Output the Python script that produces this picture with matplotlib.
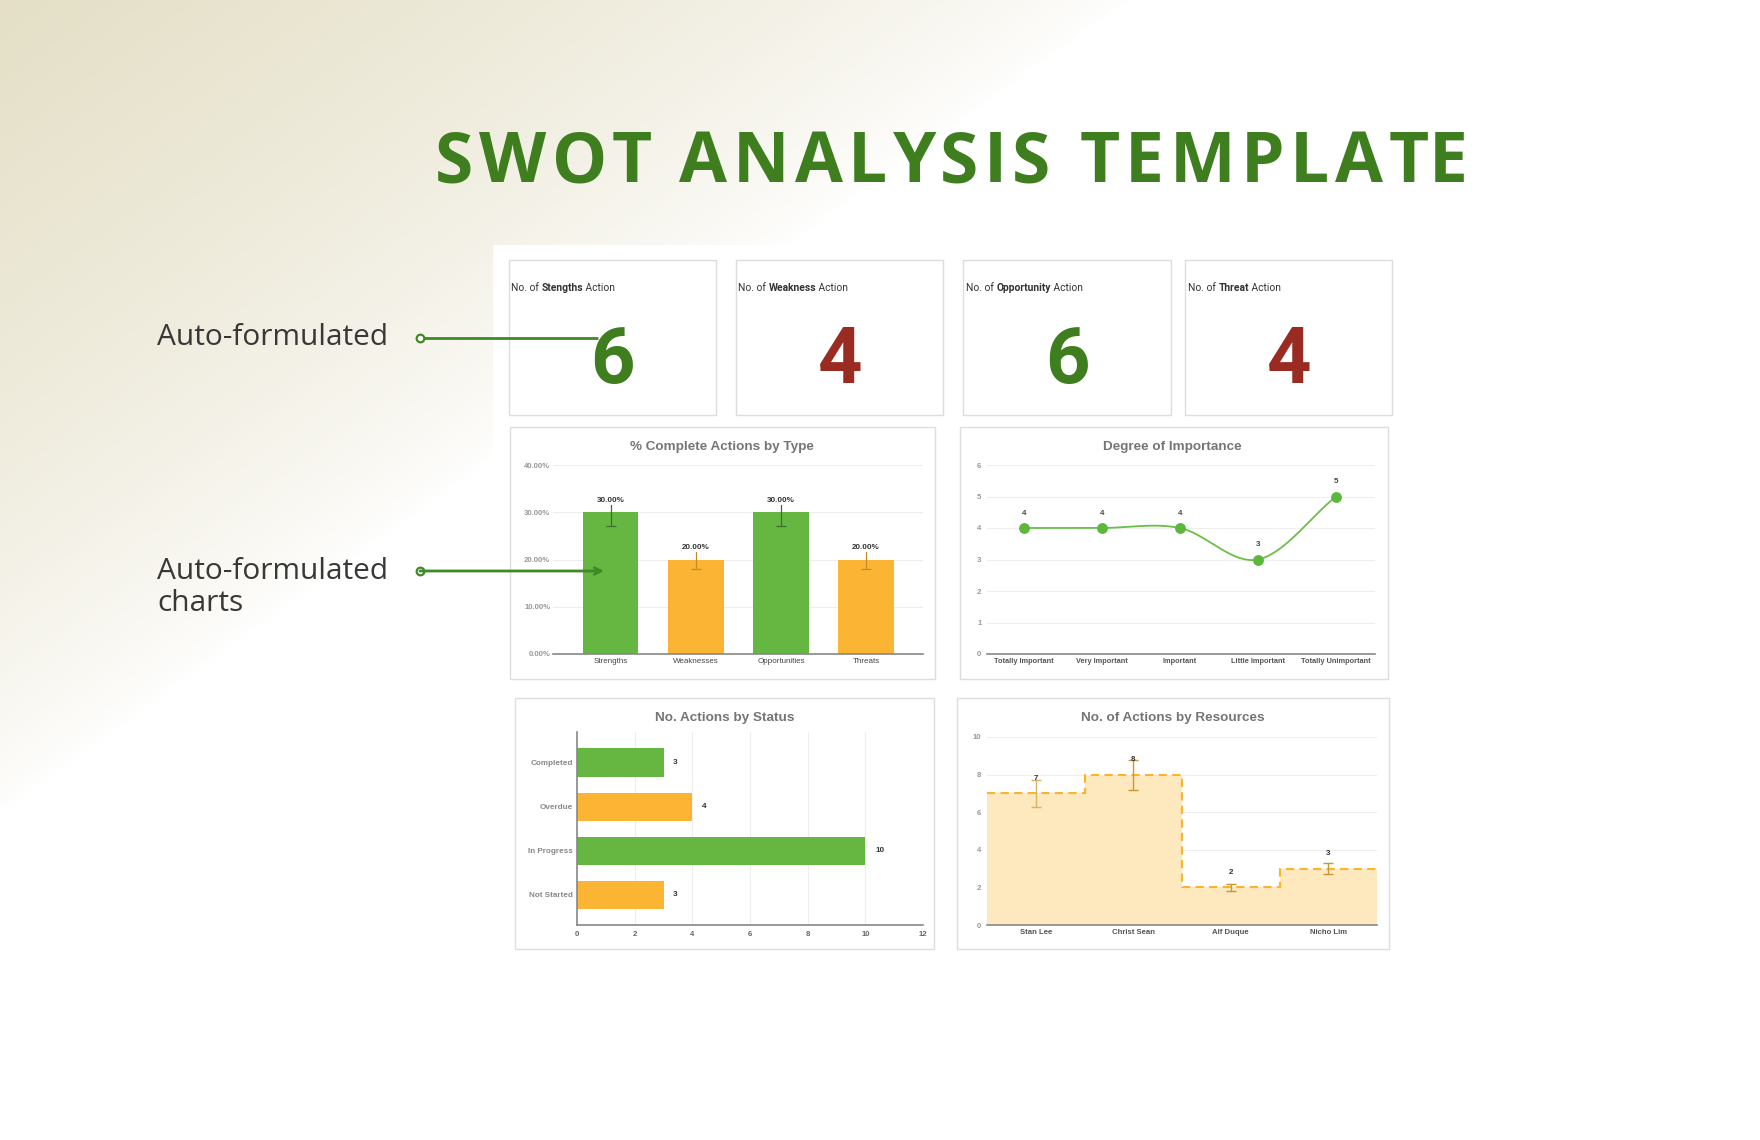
import numpy as np
import matplotlib
matplotlib.use('Agg')
import matplotlib.pyplot as plt
from matplotlib.patches import Rectangle

# ---- data ----
kpi_names = ['Stengths', 'Weakness', 'Opportunity', 'Threat']
kpi_values = [6, 4, 6, 4]

type_labels = ['Strengths', 'Weaknesses', 'Opportunities', 'Threats']
type_pct = [30, 20, 30, 20]

importance_labels = ['Totally Important', 'Very Important', 'Important',
                     'Little Important', 'Totally Unimportant']
importance_counts = [4, 4, 4, 3, 5]

status_labels = ['Completed', 'Overdue', 'In Progress', 'Not Started']
status_counts = [3, 4, 10, 3]

resource_labels = ['Stan Lee', 'Christ Sean', 'Alf Duque', 'Nicho Lim']
resource_counts = [7, 8, 2, 3]

GREEN = '#65b741'
ORANGE = '#fcb434'
DARK_GREEN = '#3f7e1f'
RED = '#9a2b22'
LINK = '#3e8a25'
SANS = ['Liberation Sans', 'DejaVu Sans']

W, H = 1760, 1140
fig = plt.figure(figsize=(W / 100, H / 100), dpi=100)
renderer = fig.canvas.get_renderer()


def px_box(x0, y0, x1, y1):
    # pixel box (top-left origin) -> figure fraction rect
    return [x0 / W, 1 - y1 / H, (x1 - x0) / W, (y1 - y0) / H]


def fx(x):
    return x / W


def fy(y):
    return 1 - y / H


def text_w(s, **kw):
    t = fig.text(0, 0, s, **kw)
    w = t.get_window_extent(renderer=renderer).width
    t.remove()
    return w


# ---- background gradient ----
bg = fig.add_axes([0, 0, 1, 1])
bg.axis('off')
xs = np.arange(W) / 1.128
ys = np.arange(H) / 1.128
X, Y = np.meshgrid(xs, ys)
s = X / 1000 + Y / 720
f = np.clip(1 - s, 0, 1) ** 0.7
f[(X >= 437) & (Y >= 217)] = 0
beige = np.array([228, 223, 198]) / 255
img = 1 - f[..., None] * (1 - beige)
bg.imshow(img, extent=[0, 1, 0, 1], aspect='auto', origin='upper')
bg.set_xlim(0, 1)
bg.set_ylim(0, 1)

# ---- title with letter spacing ----
title = 'SWOT ANALYSIS TEMPLATE'
tkw = dict(fontsize=50, fontweight='bold', family=['Open Sans', 'DejaVu Sans'], color=DARK_GREEN)
natural = text_w(title, **tkw)
gap = (1468 - 435 - natural) / (len(title) - 1)
hw = text_w('H', **tkw)
for i, ch in enumerate(title):
    adv = text_w(title[:i] + 'H', **tkw) - hw if i else 0
    fig.text(fx(435 + adv + i * gap), fy(182), ch, ha='left', va='baseline', **tkw)

# ---- side labels ----
lkw = dict(fontsize=21.5, family=['Open Sans', 'DejaVu Sans'], fontweight='normal', color='#383838')
fig.text(fx(157), fy(345), 'Auto-formulated', va='baseline', **lkw)
fig.text(fx(157), fy(579), 'Auto-formulated', va='baseline', **lkw)
fig.text(fx(157), fy(611), 'charts', va='baseline', **lkw)

# ---- panel borders ----
cards = [(509, 716), (736, 943), (963, 1171), (1185, 1392)]
panels = [(510, 427, 935, 679), (960, 427, 1388, 679),
          (515, 698, 934, 949), (957, 698, 1389, 949)]
for x0, x1 in cards:
    bg.add_patch(Rectangle((fx(x0), fy(415)), (x1 - x0) / W, (415 - 260) / H,
                           fill=False, ec='#dddddd', lw=1))
for x0, y0, x1, y1 in panels:
    bg.add_patch(Rectangle((fx(x0), fy(y1)), (x1 - x0) / W, (y1 - y0) / H,
                           fill=False, ec='#dddddd', lw=1))

# ---- KPI cards ----
ckw = dict(fontsize=7.4, family=['Roboto', 'DejaVu Sans'], color='#333333')
label_x = [511, 738, 966, 1188]
digit_x = [612, 840, 1067, 1289]
for i, name in enumerate(kpi_names):
    x = label_x[i]
    pieces = [('No. of ', 'normal'), (name, 'bold'), (' Action', 'normal')]
    for txt, wt in pieces:
        fig.text(fx(x), fy(291), txt, va='baseline', ha='left', fontweight=wt, **ckw)
        x += text_w(txt + 'H', fontweight=wt, **ckw) - text_w('H', fontweight=wt, **ckw)
    col = DARK_GREEN if i % 2 == 0 else RED
    fig.text(fx(digit_x[i]), fy(383), str(kpi_values[i]), ha='center', va='baseline',
             fontsize=56, fontweight='bold', family=['Roboto', 'DejaVu Sans'], color=col)


def chart_title(x, y, s):
    fig.text(fx(x), fy(y), s, ha='center', va='center', fontsize=9.7,
             fontweight='bold', family=SANS, color='#757575')


def clean(ax, keep=('bottom',)):
    for side in ['top', 'right', 'left', 'bottom']:
        ax.spines[side].set_visible(side in keep)
        ax.spines[side].set_color('#888888')
        ax.spines[side].set_linewidth(1.2)
    ax.set_facecolor('none')
    ax.set_axisbelow(True)
    ax.tick_params(length=0)


# ---- % Complete Actions by Type ----
chart_title(722, 447, '% Complete Actions by Type')
axA = fig.add_axes(px_box(553, 465, 923, 654))
xa = np.arange(len(type_labels))
colsA = [GREEN, ORANGE, GREEN, ORANGE]
errA = ['#3f6f2a', '#c58a2a', '#3f6f2a', '#c58a2a']
axA.bar(xa, type_pct, width=0.65, color=colsA, zorder=2)
for i, v in enumerate(type_pct):
    axA.errorbar(xa[i], v, yerr=v * 0.1, color=errA[i], capsize=3.5, lw=0.9,
                 capthick=0.9, zorder=3)
    axA.annotate(f'{v:.2f}%', (xa[i], v), xytext=(0, 8.5), textcoords='offset points',
                 ha='center', va='center', fontsize=5.8, fontweight='bold', color='#333333',
                 family=SANS, bbox=dict(fc='white', ec='none', pad=0.6), zorder=4)
axA.set_xlim(-0.68, 3.67)
axA.set_ylim(0, 40)
axA.set_yticks([0, 10, 20, 30, 40])
axA.set_yticklabels([f'{t:.2f}%' for t in [0, 10, 20, 30, 40]])
axA.set_xticks(xa)
axA.set_xticklabels(type_labels)
axA.grid(axis='y', color='#eeeeee', lw=0.8)
clean(axA)
axA.tick_params(axis='y', labelsize=5.6, labelcolor='#999999', pad=2)
axA.tick_params(axis='x', labelsize=5.8, labelcolor='#444444', pad=3)
for lab in axA.get_yticklabels():
    lab.set_fontweight('bold')
    lab.set_family(SANS)
for lab in axA.get_xticklabels():
    lab.set_family(SANS)

# ---- Degree of Importance ----
chart_title(1172, 447, 'Degree of Importance')
axB = fig.add_axes(px_box(987, 465, 1375, 654))
xb = np.arange(len(importance_labels), dtype=float)
yb = np.array(importance_counts, dtype=float)
m = np.gradient(yb, xb)
sx, sy = [], []
for k in range(len(xb) - 1):
    t = np.linspace(0, 1, 40)
    h00 = 2 * t**3 - 3 * t**2 + 1
    h10 = t**3 - 2 * t**2 + t
    h01 = -2 * t**3 + 3 * t**2
    h11 = t**3 - t**2
    sx.extend(xb[k] + t)
    sy.extend(h00 * yb[k] + h10 * m[k] + h01 * yb[k + 1] + h11 * m[k + 1])
axB.plot(sx, sy, color='#6abf47', lw=1.3, zorder=2)
axB.plot(xb, yb, 'o', ms=6.8, color='#5cb83c', zorder=5)
for x, v in zip(xb, importance_counts):
    axB.annotate(str(v), (x, v), xytext=(0, 10.5), textcoords='offset points',
                 ha='center', va='center', fontsize=5.8, fontweight='bold',
                 color='#444444', family=SANS, zorder=3,
                 arrowprops=dict(arrowstyle='-', color='#e2e2e2', lw=0.7,
                                 shrinkA=3, shrinkB=4))
axB.set_xlim(-0.47, 4.5)
axB.set_ylim(0, 6)
axB.set_yticks(range(0, 7))
axB.set_xticks(xb)
axB.set_xticklabels(importance_labels)
axB.grid(axis='y', color='#eeeeee', lw=0.8)
clean(axB)
axB.tick_params(axis='y', labelsize=5.6, labelcolor='#999999', pad=4)
axB.tick_params(axis='x', labelsize=5.3, labelcolor='#555555', pad=3)
for lab in axB.get_yticklabels() + axB.get_xticklabels():
    lab.set_fontweight('bold')
    lab.set_family(SANS)

# ---- No. Actions by Status ----
chart_title(725, 718, 'No. Actions by Status')
axC = fig.add_axes(px_box(577, 732, 923, 925))
yc = np.arange(len(status_labels))
axC.barh(yc, status_counts, height=0.64, color=[GREEN, ORANGE, GREEN, ORANGE], zorder=2)
for y, v in zip(yc, status_counts):
    axC.annotate(str(v), (v, y), xytext=(7, 0), textcoords='offset points',
                 ha='left', va='center', fontsize=5.9, fontweight='bold',
                 color='#333333', family=SANS)
axC.set_xlim(0, 12)
axC.set_ylim(3.68, -0.69)
axC.set_xticks(range(0, 13, 2))
axC.set_yticks(yc)
axC.set_yticklabels(status_labels)
axC.grid(axis='x', color='#eeeeee', lw=0.8)
clean(axC, keep=('bottom', 'left'))
axC.tick_params(axis='y', labelsize=5.9, labelcolor='#888888', pad=3)
axC.tick_params(axis='x', labelsize=5.6, labelcolor='#666666', pad=4)
for lab in axC.get_yticklabels() + axC.get_xticklabels():
    lab.set_fontweight('bold')
    lab.set_family(SANS)

# ---- No. of Actions by Resources ----
chart_title(1173, 718, 'No. of Actions by Resources')
axD = fig.add_axes(px_box(987, 737, 1377, 925))
xd = np.arange(len(resource_labels))
edges = np.arange(len(resource_labels) + 1) - 0.5
axD.stairs(resource_counts, edges, fill=True, color='#fde9bd', baseline=0, zorder=1)
axD.stairs(resource_counts, edges, baseline=None, color='#fbb42e', lw=1.5,
           linestyle=(0, (4, 2.5)), zorder=2)
errD = ['#d8b46a', '#c9992f', '#c9992f', '#c9992f']
for i, v in enumerate(resource_counts):
    axD.errorbar(xd[i], v, yerr=v * 0.1, color=errD[i], capsize=3.5, lw=1,
                 capthick=1, zorder=3)
    axD.annotate(str(v), (xd[i], v), xytext=(0, 11), textcoords='offset points',
                 ha='center', va='center', fontsize=5.8, fontweight='bold',
                 color='#333333', family=SANS, zorder=4)
axD.set_xlim(-0.5, 3.5)
axD.set_ylim(0, 10)
axD.set_yticks(range(0, 11, 2))
axD.set_xticks(xd)
axD.set_xticklabels(resource_labels)
axD.grid(axis='y', color='#eeeeee', lw=0.8)
clean(axD)
axD.tick_params(axis='y', labelsize=5.6, labelcolor='#999999', pad=4)
axD.tick_params(axis='x', labelsize=5.6, labelcolor='#555555', pad=3)
for lab in axD.get_yticklabels() + axD.get_xticklabels():
    lab.set_fontweight('bold')
    lab.set_family(SANS)

# ---- connector lines on top ----
ov = fig.add_axes([0, 0, 1, 1])
ov.axis('off')
ov.set_xlim(0, 1)
ov.set_ylim(0, 1)
ov.plot([fx(420), fx(598)], [fy(338), fy(338)], color=LINK, lw=2, solid_capstyle='butt')
ov.annotate('', xy=(fx(604), fy(571)), xytext=(fx(420), fy(571)),
            arrowprops=dict(arrowstyle='->', color=LINK, lw=2, shrinkA=0, shrinkB=0,
                            mutation_scale=12))
ov.plot([fx(420), fx(420)], [fy(338), fy(571)], 'o', ms=5.5, mfc='white',
        mec=LINK, mew=1.6, ls='none')

fig.savefig('out.png', dpi=100)
